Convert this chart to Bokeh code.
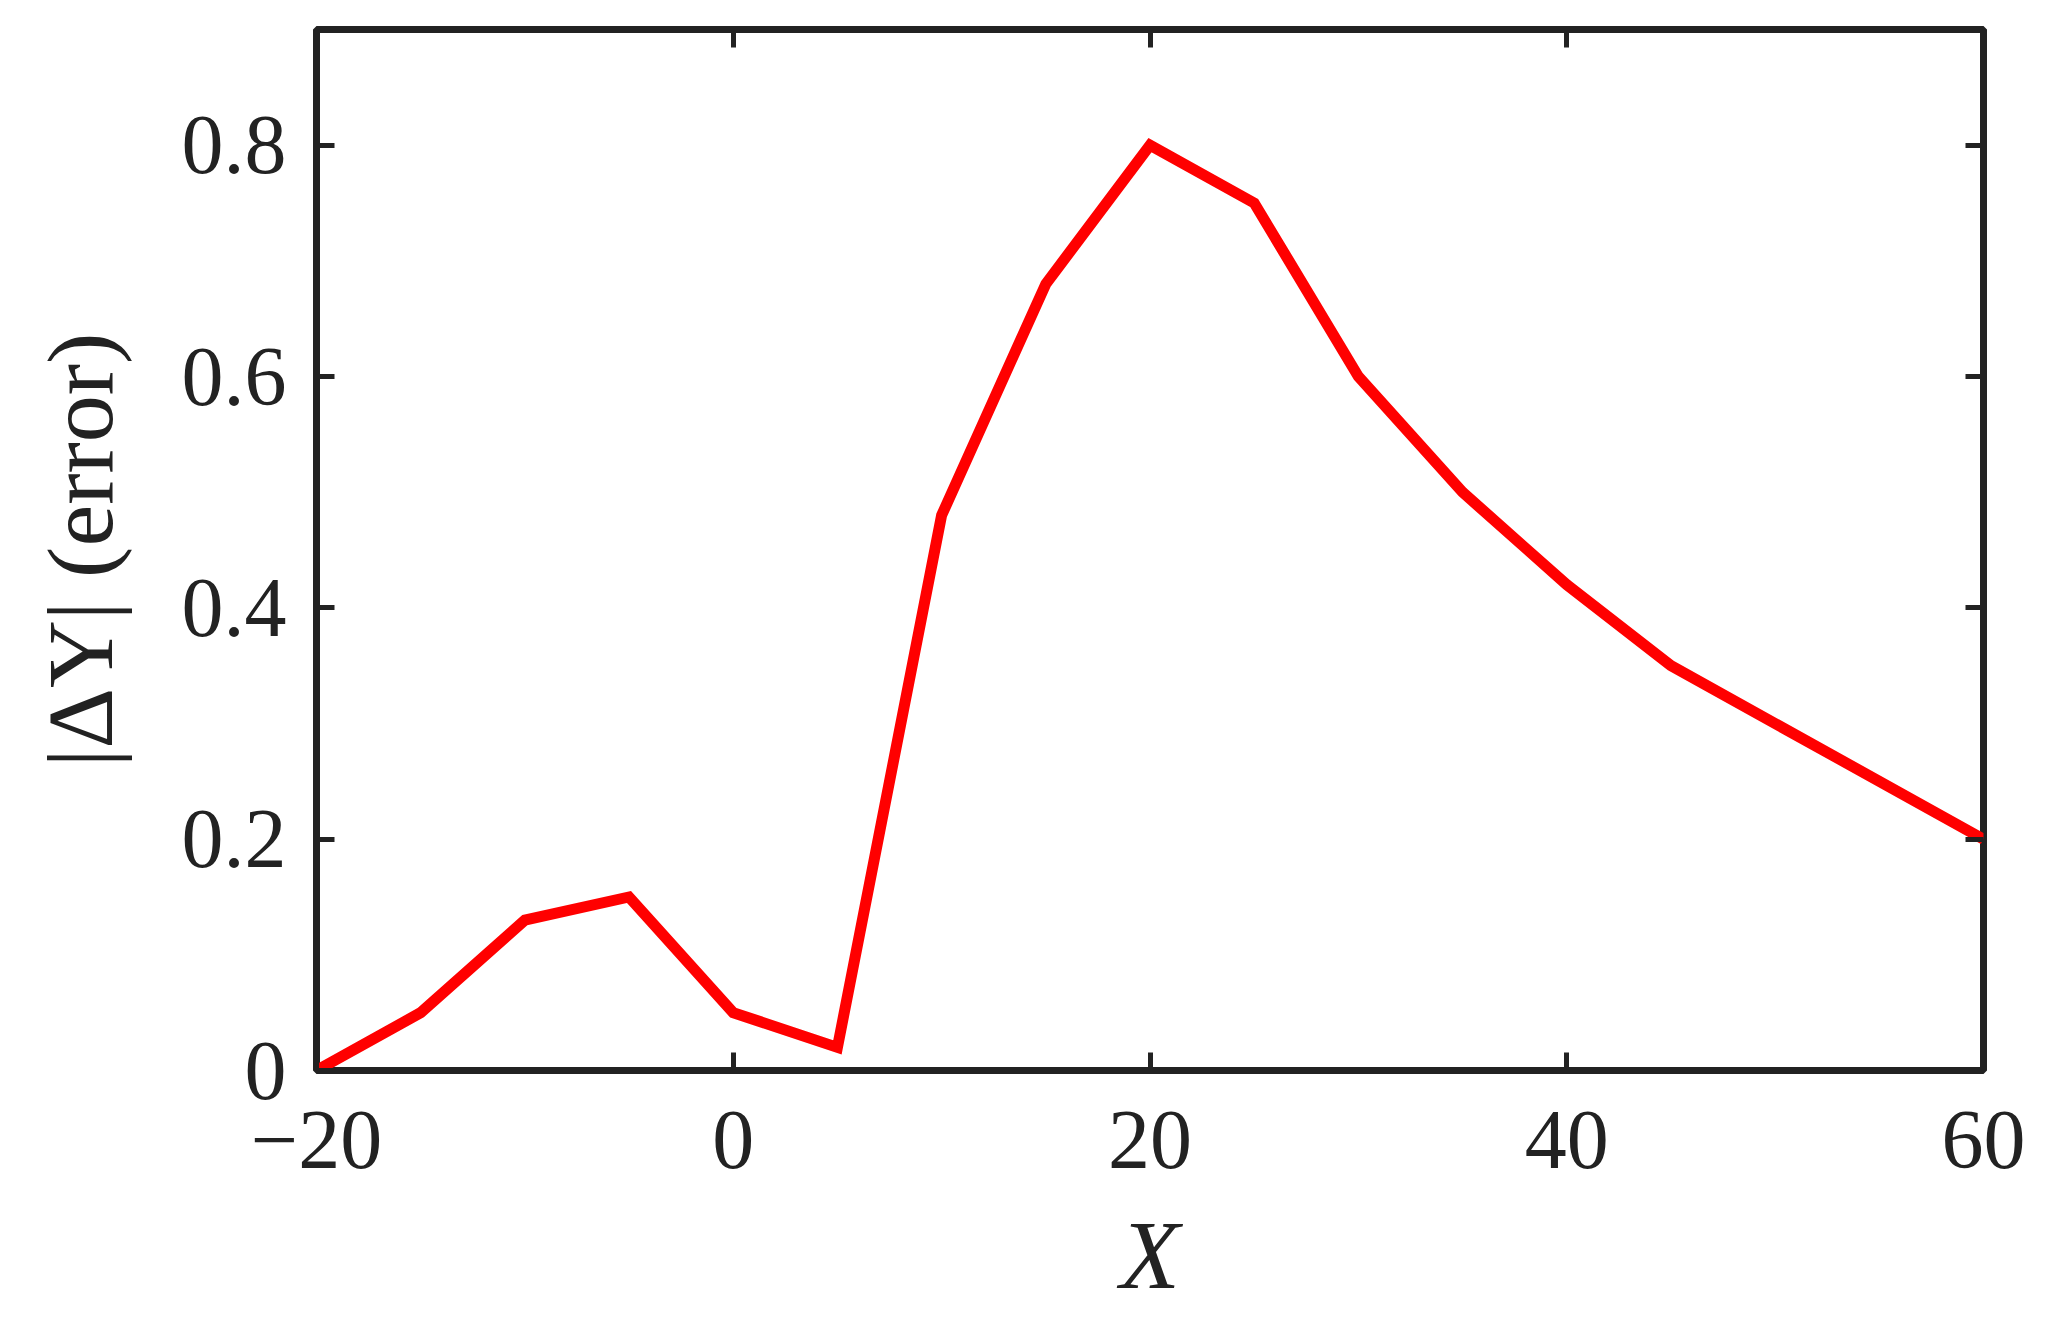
from bokeh.plotting import figure
from bokeh.models import LinearAxis, FixedTicker, Range1d, CustomJSTickFormatter
from bokeh.embed import file_html
from bokeh.resources import INLINE

# data
x_vals = [-20, -15, -10, -5, 0, 5, 10, 15, 20, 25, 30, 35, 40, 45, 60]
y_vals = [0.0, 0.05, 0.13, 0.15, 0.05, 0.02, 0.48, 0.68, 0.80, 0.75, 0.60, 0.50, 0.42, 0.35, 0.20]

x_ticks = [-20, 0, 20, 40, 60]
x_tick_labels = ["\u221220", "0", "20", "40", "60"]
y_ticks = [0, 0.2, 0.4, 0.6, 0.8]
y_tick_labels = ["0", "0.2", "0.4", "0.6", "0.8"]

x_label = "X"
y_label = "|\u0394Y| (error)"

FONT = "Liberation Serif"
FS = "84px"
DARK = "#222222"

p = figure(width=2030, height=1311, output_backend="svg", toolbar_location=None,
           x_range=Range1d(-20, 60), y_range=Range1d(0, 0.9),
           x_axis_location=None, y_axis_location=None,
           min_border_left=316, min_border_top=29, min_border_right=47, min_border_bottom=231)

p.background_fill_color = "white"
p.border_fill_color = "white"
p.outline_line_color = DARK
p.outline_line_width = 7
p.xgrid.visible = False
p.ygrid.visible = False

def style(ax, ticks):
    ax.ticker = FixedTicker(ticks=ticks)
    ax.axis_line_color = None
    ax.major_tick_in = 18
    ax.major_tick_out = 0
    ax.major_tick_line_width = 5
    ax.major_tick_line_color = DARK
    ax.minor_tick_line_color = None
    ax.major_label_text_font = FONT
    ax.major_label_text_font_size = FS
    ax.major_label_text_color = DARK
    ax.axis_label_text_font = FONT
    ax.axis_label_text_font_size = "98px"
    ax.axis_label_text_color = DARK

xb = LinearAxis(axis_label=x_label)
style(xb, x_ticks)
xb.major_label_overrides = dict(zip(x_ticks, x_tick_labels))
xb.major_label_standoff = 41
xb.axis_label_standoff = 30
xb.axis_label_text_font_style = "italic"
p.add_layout(xb, "below")

yl = LinearAxis(axis_label=y_label)
style(yl, y_ticks)
yl.major_label_overrides = dict(zip(y_ticks, y_tick_labels))
yl.major_label_standoff = 30
yl.axis_label_standoff = 47
yl.axis_label_text_font_size = "94px"
yl.axis_label_text_font_style = "normal"
p.add_layout(yl, "left")

empty = CustomJSTickFormatter(code="return ''")
xt = LinearAxis(formatter=empty)
style(xt, x_ticks)
xt.major_label_text_font_size = "1px"
p.add_layout(xt, "above")

yr = LinearAxis(formatter=empty)
style(yr, y_ticks)
yr.major_label_text_font_size = "1px"
p.add_layout(yr, "right")

p.line(x_vals, y_vals, line_color="#ff0000", line_width=11, line_join="miter")

open("out.html", "w").write(file_html(p, INLINE))
